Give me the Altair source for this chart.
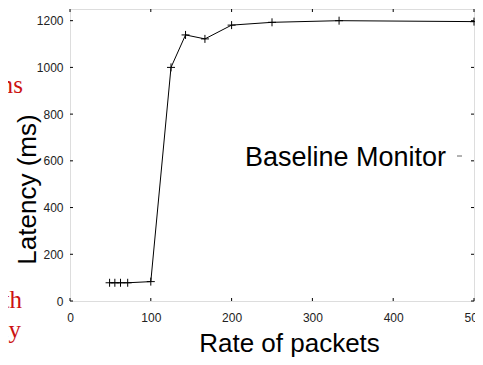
import altair as alt
import pandas as pd

# ---- data ----
rates = [49, 55.5, 62.5, 71.4, 100, 125, 143, 167, 200, 250, 333, 500]
latency = [78, 78, 78, 78, 83, 1000, 1139, 1122, 1181, 1193, 1200, 1196]
x_ticks = [0, 100, 200, 300, 400, 500]
y_ticks = [0, 200, 400, 600, 800, 1000, 1200]
legend_label = "Baseline Monitor"
x_title = "Rate of packets"
y_title = "Latency (ms)"
side_fragments = ["ms", "th", "cy"]

df = pd.DataFrame({"rate": rates, "latency": latency})
xt = pd.DataFrame({"v": x_ticks})
yt = pd.DataFrame({"v": y_ticks})

W, H = 404, 292
FONT = "Liberation Sans"
SERIF = "Liberation Serif"

xs = alt.Scale(domain=[0, 500], nice=False, zero=False)
ys = alt.Scale(domain=[0, 1250], nice=False)

x_axis = alt.Axis(
    values=x_ticks, format="d", ticks=False, domain=False, grid=False,
    labelFlush=False,
    labelFont=FONT, labelFontSize=12, labelColor="#222222", labelPadding=11,
    title=x_title, titleFont=FONT, titleFontSize=26, titleFontWeight="normal",
    titleColor="#000000", titleX=219, titleY=50, titleBaseline="alphabetic",
    titleAlign="center",
)
y_axis = alt.Axis(
    values=y_ticks, format="d", ticks=False, domain=False, grid=False,
    labelFlush=False,
    labelFont=FONT, labelFontSize=12, labelColor="#222222", labelPadding=7,
    title=y_title, titleFont=FONT, titleFontSize=26, titleFontWeight="normal",
    titleColor="#000000", titleX=-43, titleY=180, titleBaseline="middle",
    titleAlign="center", titleAngle=270,
)

base = alt.Chart(df).encode(
    x=alt.X("rate:Q", scale=xs, axis=x_axis),
    y=alt.Y("latency:Q", scale=ys, axis=y_axis),
)

line = base.mark_line(color="black", strokeWidth=1)
points = base.mark_point(
    shape="M-1,0L1,0M0,-1L0,1", size=64, filled=False, color="black",
    strokeWidth=1, opacity=1,
)

# inward (gnuplot-style) ticks on all four sides
tick_b = alt.Chart(xt).mark_rule(color="black", strokeWidth=1).encode(
    x=alt.X("v:Q", scale=xs), y=alt.value(H), y2=alt.value(H - 3))
tick_t = alt.Chart(xt).mark_rule(color="black", strokeWidth=1).encode(
    x=alt.X("v:Q", scale=xs), y=alt.value(0), y2=alt.value(3))
tick_l = alt.Chart(yt).mark_rule(color="black", strokeWidth=1).encode(
    y=alt.Y("v:Q", scale=ys), x=alt.value(0), x2=alt.value(3))
tick_r = alt.Chart(yt).mark_rule(color="black", strokeWidth=1).encode(
    y=alt.Y("v:Q", scale=ys), x=alt.value(W), x2=alt.value(W - 3))

legend_text = alt.Chart(pd.DataFrame({"t": [legend_label]})).mark_text(
    align="left", baseline="alphabetic", font=FONT, fontSize=27, color="black"
).encode(text="t:N", x=alt.value(175), y=alt.value(157))

legend_key = alt.Chart(pd.DataFrame({"t": [legend_label]})).mark_rule(
    color="#666666", strokeWidth=1
).encode(x=alt.value(387), x2=alt.value(392), y=alt.value(147))

def fragment(txt, xpx, ypx):
    return alt.Chart(pd.DataFrame({"t": [txt]})).mark_text(
        align="right", baseline="alphabetic", font=SERIF, fontSize=25,
        color="#cc1111"
    ).encode(text="t:N", x=alt.value(xpx), y=alt.value(ypx))

frag_ms = fragment(side_fragments[0], -47, 84)
frag_th = fragment(side_fragments[1], -48, 299)
frag_cy = fragment(side_fragments[2], -49, 329)

chart = alt.layer(
    line, points, tick_b, tick_t, tick_l, tick_r,
    legend_text, legend_key, frag_ms, frag_th, frag_cy,
).properties(
    width=W, height=H,
    autosize=alt.AutoSizeParams(type="none"),
    padding={"left": 62, "top": 1, "right": 1, "bottom": 56},
).configure_view(
    stroke="black", strokeWidth=1.5
).configure(background="white")

chart.save("out.html", embed_options={"renderer": "svg", "actions": False})
